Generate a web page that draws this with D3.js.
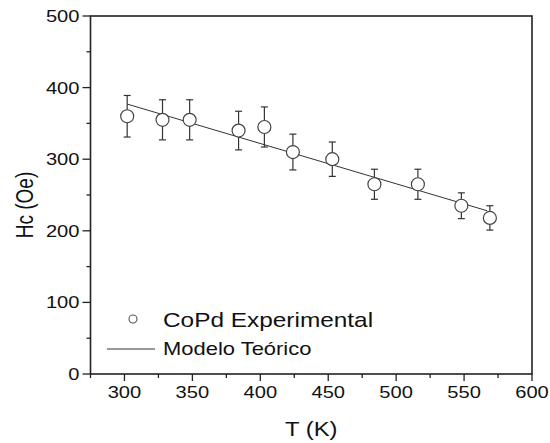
<!DOCTYPE html>
<html>
<head>
<meta charset="utf-8">
<script src="https://cdn.jsdelivr.net/npm/d3@7.9.0/dist/d3.min.js"></script>
<style>
  body { margin: 0; background: #fff; }
  svg text { font-family: "Liberation Sans", Arial, sans-serif; fill: #111; }
</style>
</head>
<body>
<svg width="550" height="443"></svg>
<script>
// measured values
const temps = [302, 328, 348, 384, 403, 424, 453, 484, 516, 548, 569];
const hc = [360, 355, 355, 340, 345, 310, 300, 265, 265, 235, 218];
const hcErr = [29, 28, 28, 27, 28, 25, 24, 21, 21, 18, 17];
// theoretical model line
const modelT = [302, 567];
const modelHc = [377, 228];

const xTicks = [300, 350, 400, 450, 500, 550, 600];
const yTicks = [0, 100, 200, 300, 400, 500];

const svg = d3.select("svg");
const x = d3.scaleLinear().domain([275, 600]).range([90.5, 532]);
const y = d3.scaleLinear().domain([0, 500]).range([374, 16]);
const stretch = 1.22; // text in the picture is a bit wide

// frame
svg.append("rect")
  .attr("x", x(275)).attr("y", y(500))
  .attr("width", x(600) - x(275)).attr("height", y(0) - y(500))
  .attr("fill", "none").attr("stroke", "#222").attr("stroke-width", 1.6);

// ticks
const g = svg.append("g").attr("stroke", "#222").attr("stroke-width", 1.3);
d3.range(275, 601, 25).forEach((t) => {
  const major = xTicks.includes(t);
  g.append("line").attr("x1", x(t)).attr("x2", x(t))
    .attr("y1", y(0)).attr("y2", y(0) + (major ? 7 : 4));
});
d3.range(0, 501, 50).forEach((t) => {
  const major = yTicks.includes(t);
  g.append("line").attr("y1", y(t)).attr("y2", y(t))
    .attr("x1", x(275)).attr("x2", x(275) - (major ? 8 : 4));
});

// tick labels
xTicks.forEach((t) => {
  svg.append("text")
    .attr("transform", `translate(${x(t)},${y(0) + 24}) scale(${stretch},1)`)
    .attr("text-anchor", "middle").attr("font-size", 16.5).text(t);
});
yTicks.forEach((t) => {
  svg.append("text")
    .attr("transform", `translate(${x(275) - 11},${y(t) + 6}) scale(${stretch},1)`)
    .attr("text-anchor", "end").attr("font-size", 16.5).text(t);
});

// axis titles
svg.append("text")
  .attr("transform", `translate(${(x(275) + x(600)) / 2},436) scale(${stretch},1)`)
  .attr("text-anchor", "middle").attr("font-size", 19.5).text("T (K)");
svg.append("text")
  .attr("transform", `translate(33,205) rotate(-90) scale(1,${stretch})`)
  .attr("text-anchor", "middle").attr("font-size", 19).text("Hc (Oe)");

// model line
const line = d3.line().x((d, i) => x(modelT[i])).y((d) => y(d));
svg.append("path").attr("d", line(modelHc))
  .attr("fill", "none").attr("stroke", "#333").attr("stroke-width", 1);

// error bars
const eb = svg.append("g").attr("stroke", "#333").attr("stroke-width", 1.2);
temps.forEach((t, i) => {
  const cx = x(t);
  const top = y(hc[i] + hcErr[i]);
  const bot = y(hc[i] - hcErr[i]);
  eb.append("line").attr("x1", cx).attr("x2", cx).attr("y1", top).attr("y2", bot);
  eb.append("line").attr("x1", cx - 3.5).attr("x2", cx + 3.5).attr("y1", top).attr("y2", top);
  eb.append("line").attr("x1", cx - 3.5).attr("x2", cx + 3.5).attr("y1", bot).attr("y2", bot);
});

// points
svg.append("g").selectAll("circle").data(hc).join("circle")
  .attr("cx", (d, i) => x(temps[i])).attr("cy", (d) => y(d)).attr("r", 6.5)
  .attr("fill", "#fff").attr("stroke", "#444").attr("stroke-width", 1.2);

// legend
svg.append("circle").attr("cx", 133).attr("cy", 319).attr("r", 4)
  .attr("fill", "#fff").attr("stroke", "#555").attr("stroke-width", 1.1);
svg.append("text")
  .attr("transform", `translate(163,327) scale(${stretch},1)`)
  .attr("font-size", 20).text("CoPd Experimental");
svg.append("line").attr("x1", 107).attr("x2", 155).attr("y1", 349).attr("y2", 349)
  .attr("stroke", "#333").attr("stroke-width", 1);
svg.append("text")
  .attr("transform", `translate(163,355) scale(${stretch},1)`)
  .attr("font-size", 18).text("Modelo Teórico");
</script>
</body>
</html>
